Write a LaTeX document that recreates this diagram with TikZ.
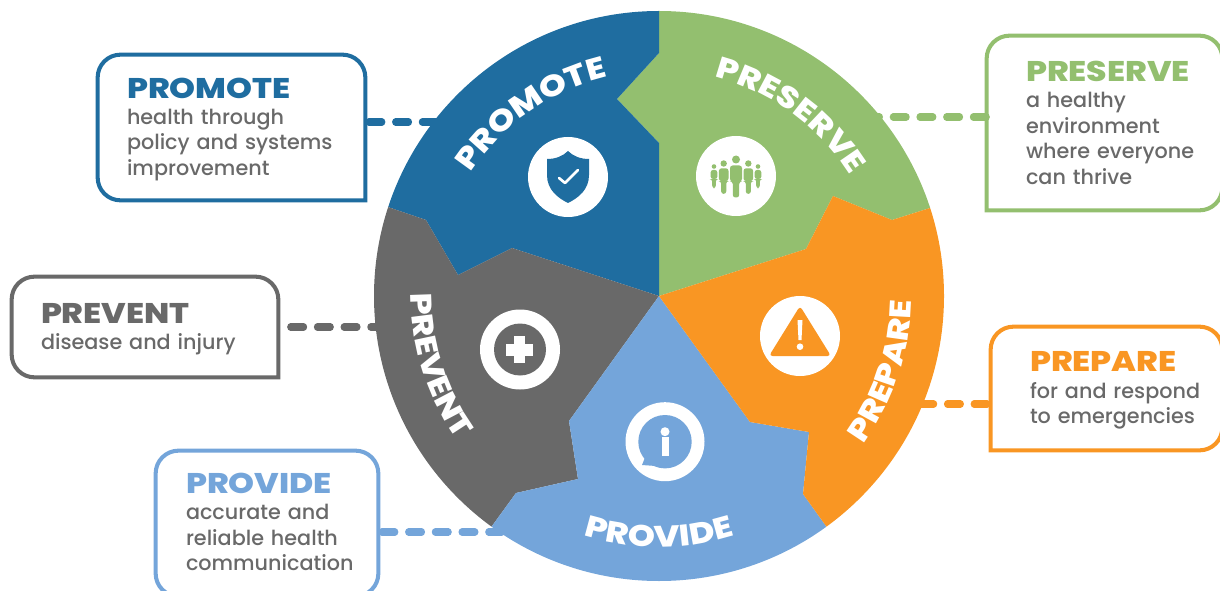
\documentclass[tikz,border=0pt]{standalone}
\usepackage{fontspec}
\usepackage{xcolor}
\usepackage{tikz}
\usetikzlibrary{decorations.text}
\setmainfont{Poppins Medium}
\newfontfamily\headfont[FakeStretch=1.16]{Poppins ExtraBold}
\definecolor{promote}{HTML}{1F6DA0}
\definecolor{preserve}{HTML}{93BF6F}
\definecolor{prepare}{HTML}{F99623}
\definecolor{provide}{HTML}{74A5DA}
\definecolor{prevent}{HTML}{696969}
\tikzset{
	boxnode/.style n args={3}{inner sep=0pt,text width=#1*0.02cm,minimum height=#2*0.02cm,align=left,
		text=prevent,font=\fontsize{11.8}{14.5}\selectfont,
		execute at begin node={\pgfmathsetlength{\leftskip}{#3*0.02cm}}},
	boxline/.style={line width=2.3pt},
	dashline/.style={line width=4pt,line cap=round,dash pattern=on 7.4pt off 7.8pt},
	wheeltext/.style={decorate,decoration={text along path,text align=center,text color=white,text={|\fontsize{17}{20}\headfont|#1}}},
	iconback/.style={fill=white}
}
\newcommand{\boxhead}[2]{\rule{0pt}{13.7pt}{\fontsize{16.2}{14.5}\headfont\color{#1}#2}\\[0.4pt]}
\newcommand{\figperson}[3]{
	\begin{scope}[shift={(#1,#2)},scale=#3]
		\fill[preserve] (0,0) circle[radius=4];
		\fill[preserve,rounded corners=1.5] (-6,6) -- (6,6) -- (6,22) -- (3.2,22) -- (3.2,38) -- (-3.2,38) -- (-3.2,22) -- (-6,22) -- cycle;
	\end{scope}
}

\begin{document}
\begin{tikzpicture}[x=0.02cm,y=-0.02cm]
	\clip (0,0) rectangle (1220,591);

	\node[boxnode={267}{145}{29}] (pmbox) at (231.5,127.5) {\boxhead{promote}{PROMOTE}health through\\policy and systems\\improvement};
	\node[boxnode={266}{100}{29}] (pvbox) at (145,327) {\boxhead{prevent}{PREVENT}disease and injury};
	\node[boxnode={222}{145}{30}] (pdbox) at (267,523.5) {\boxhead{provide}{PROVIDE}accurate and\\reliable health\\communication\vspace*{3.5pt}};
	\node[boxnode={235}{174}{39}] (psbox) at (1104.5,123) {\boxhead{preserve}{PRESERVE}a healthy\\environment\\where everyone\\can thrive\vspace*{2.3pt}};
	\node[boxnode={231}{123}{39}] (prbox) at (1106.5,388.5) {\boxhead{prepare}{PREPARE}for and respond\\to emergencies};

	\draw[boxline,promote] (pmbox.south east) [rounded corners=13pt] -- (pmbox.south west) -- (pmbox.north west) -- (pmbox.north east) [sharp corners] -- cycle;
	\draw[boxline,prevent] (pvbox.south east) [rounded corners=13pt] -- (pvbox.south west) -- (pvbox.north west) -- (pvbox.north east) [sharp corners] -- cycle;
	\draw[boxline,provide,rounded corners=13pt] (pdbox.south west) rectangle (pdbox.north east);
	\draw[boxline,preserve] (psbox.south west) [rounded corners=13pt] -- (psbox.south east) -- (psbox.north east) -- (psbox.north west) [sharp corners] -- cycle;
	\draw[boxline,prepare] (prbox.south west) [rounded corners=13pt] -- (prbox.south east) -- (prbox.north east) -- (prbox.north west) [sharp corners] -- cycle;

	\coordinate (pmend) at (460,122);
	\coordinate (pvend) at (400,327);
	\coordinate (pdend) at (520,532);
	\coordinate (psstart) at (866.5,117);
	\coordinate (prend) at (900,404);
	\draw[dashline,promote,shorten <=2pt] (pmend -| pmbox.east) -- (pmend);
	\draw[dashline,prevent,shorten <=7pt] (pvbox.east) -- (pvend);
	\draw[dashline,provide,shorten <=2pt] (pdend -| pdbox.east) -- (pdend);
	\draw[dashline,preserve] (psstart) -- (psstart -| psbox.west);
	\draw[dashline,prepare,shorten <=2pt] (prend -| prbox.west) -- (prend);

	\begin{scope}
		\clip (659,296) circle[radius=285];
		\fill[preserve] (659,296) -- (659,143) -- (617,99) -- (659,53) -- (659,-100) -- (1006,-100) -- (1006,184) -- (930,208) -- (892,220) -- (833,196) -- (806,249) -- cycle;
		\fill[promote] (659,296) -- (659,143) -- (617,99) -- (659,53) -- (659,-100) -- (300,-100) -- (300,177) -- (426,220) -- (458,275) -- (512,248) -- cycle;
		\fill[prevent] (659,296) -- (512,248) -- (458,275) -- (426,220) -- (300,177) -- (250,600) -- (420,625) -- (516,493) -- (578,479) -- (569,421) -- cycle;
		\fill[provide] (659,296) -- (750,422) -- (809,432) -- (803,494) -- (826,526) -- (895,622) -- (659,700) -- (420,625) -- (516,493) -- (578,479) -- (569,421) -- cycle;
		\fill[prepare] (659,296) -- (806,249) -- (833,196) -- (892,220) -- (930,208) -- (1006,184) -- (1100,500) -- (895,622) -- (826,526) -- (803,494) -- (809,432) -- (750,422) -- cycle;
	\end{scope}

	\begin{scope}[shift={(659,296)},y=0.02cm]
		\path[wheeltext=PROMOTE] (175:225) arc[start angle=175,end angle=75,radius=225];
		\path[wheeltext=PRESERVE] (104:226) arc[start angle=104,end angle=4,radius=226];
		\path[wheeltext=PREPARE] (-68.5:252) arc[start angle=-68.5,end angle=31.5,radius=252];
		\path[wheeltext=PROVIDE] (-140:251) arc[start angle=-140,end angle=-40,radius=251];
		\path[wheeltext=PREVENT] (147:248) arc[start angle=147,end angle=248,radius=248];
	\end{scope}

	% shield
	\fill[iconback] (568,177) circle[radius=40];
	\fill[promote] (547,159) .. controls (556,159) and (563,156) .. (568,151) .. controls (573,156) and (580,159) .. (589,159) -- (589,175) .. controls (589,190) and (578,198) .. (568,203) .. controls (558,198) and (547,190) .. (547,175) -- cycle;
	\draw[white,line width=1.5pt,line cap=round,line join=round] (559,178) -- (565,183) -- (578,170);
	% group of people
	\fill[iconback] (736,176) circle[radius=40];
	\figperson{736}{159.5}{1}
	\figperson{723.7}{163.5}{0.8}
	\figperson{748.3}{163.5}{0.8}
	\figperson{714}{166.5}{0.57}
	\figperson{758}{166.5}{0.57}
	% warning sign
	\fill[iconback] (800,336) circle[radius=40];
	\fill[prepare,rounded corners=2] (800,306) -- (831,356) -- (769,356) -- cycle;
	\fill[white] (797.5,320) -- (802.5,320) -- (801.5,340) -- (798.5,340) -- cycle;
	\fill[white] (800,346.7) circle[radius=3.3];
	% info bubble
	\fill[iconback] (665,441.7) circle[radius=39.5];
	\fill[provide] (665,441.7) circle[radius=26.7];
	\fill[provide] (646,455) -- (642,465) -- (656,466) -- cycle;
	\fill[white] (665,431.7) circle[radius=4.5];
	\fill[white] (661.7,437.3) rectangle (668.7,455.7);
	% plus sign
	\fill[iconback] (520,349.5) circle[radius=40];
	\fill[prevent] (520,349.5) circle[radius=26];
	\fill[white] (505.5,343.5) rectangle (533,355.5);
	\fill[white] (514,335.5) rectangle (525,363);
\end{tikzpicture}
\end{document}
